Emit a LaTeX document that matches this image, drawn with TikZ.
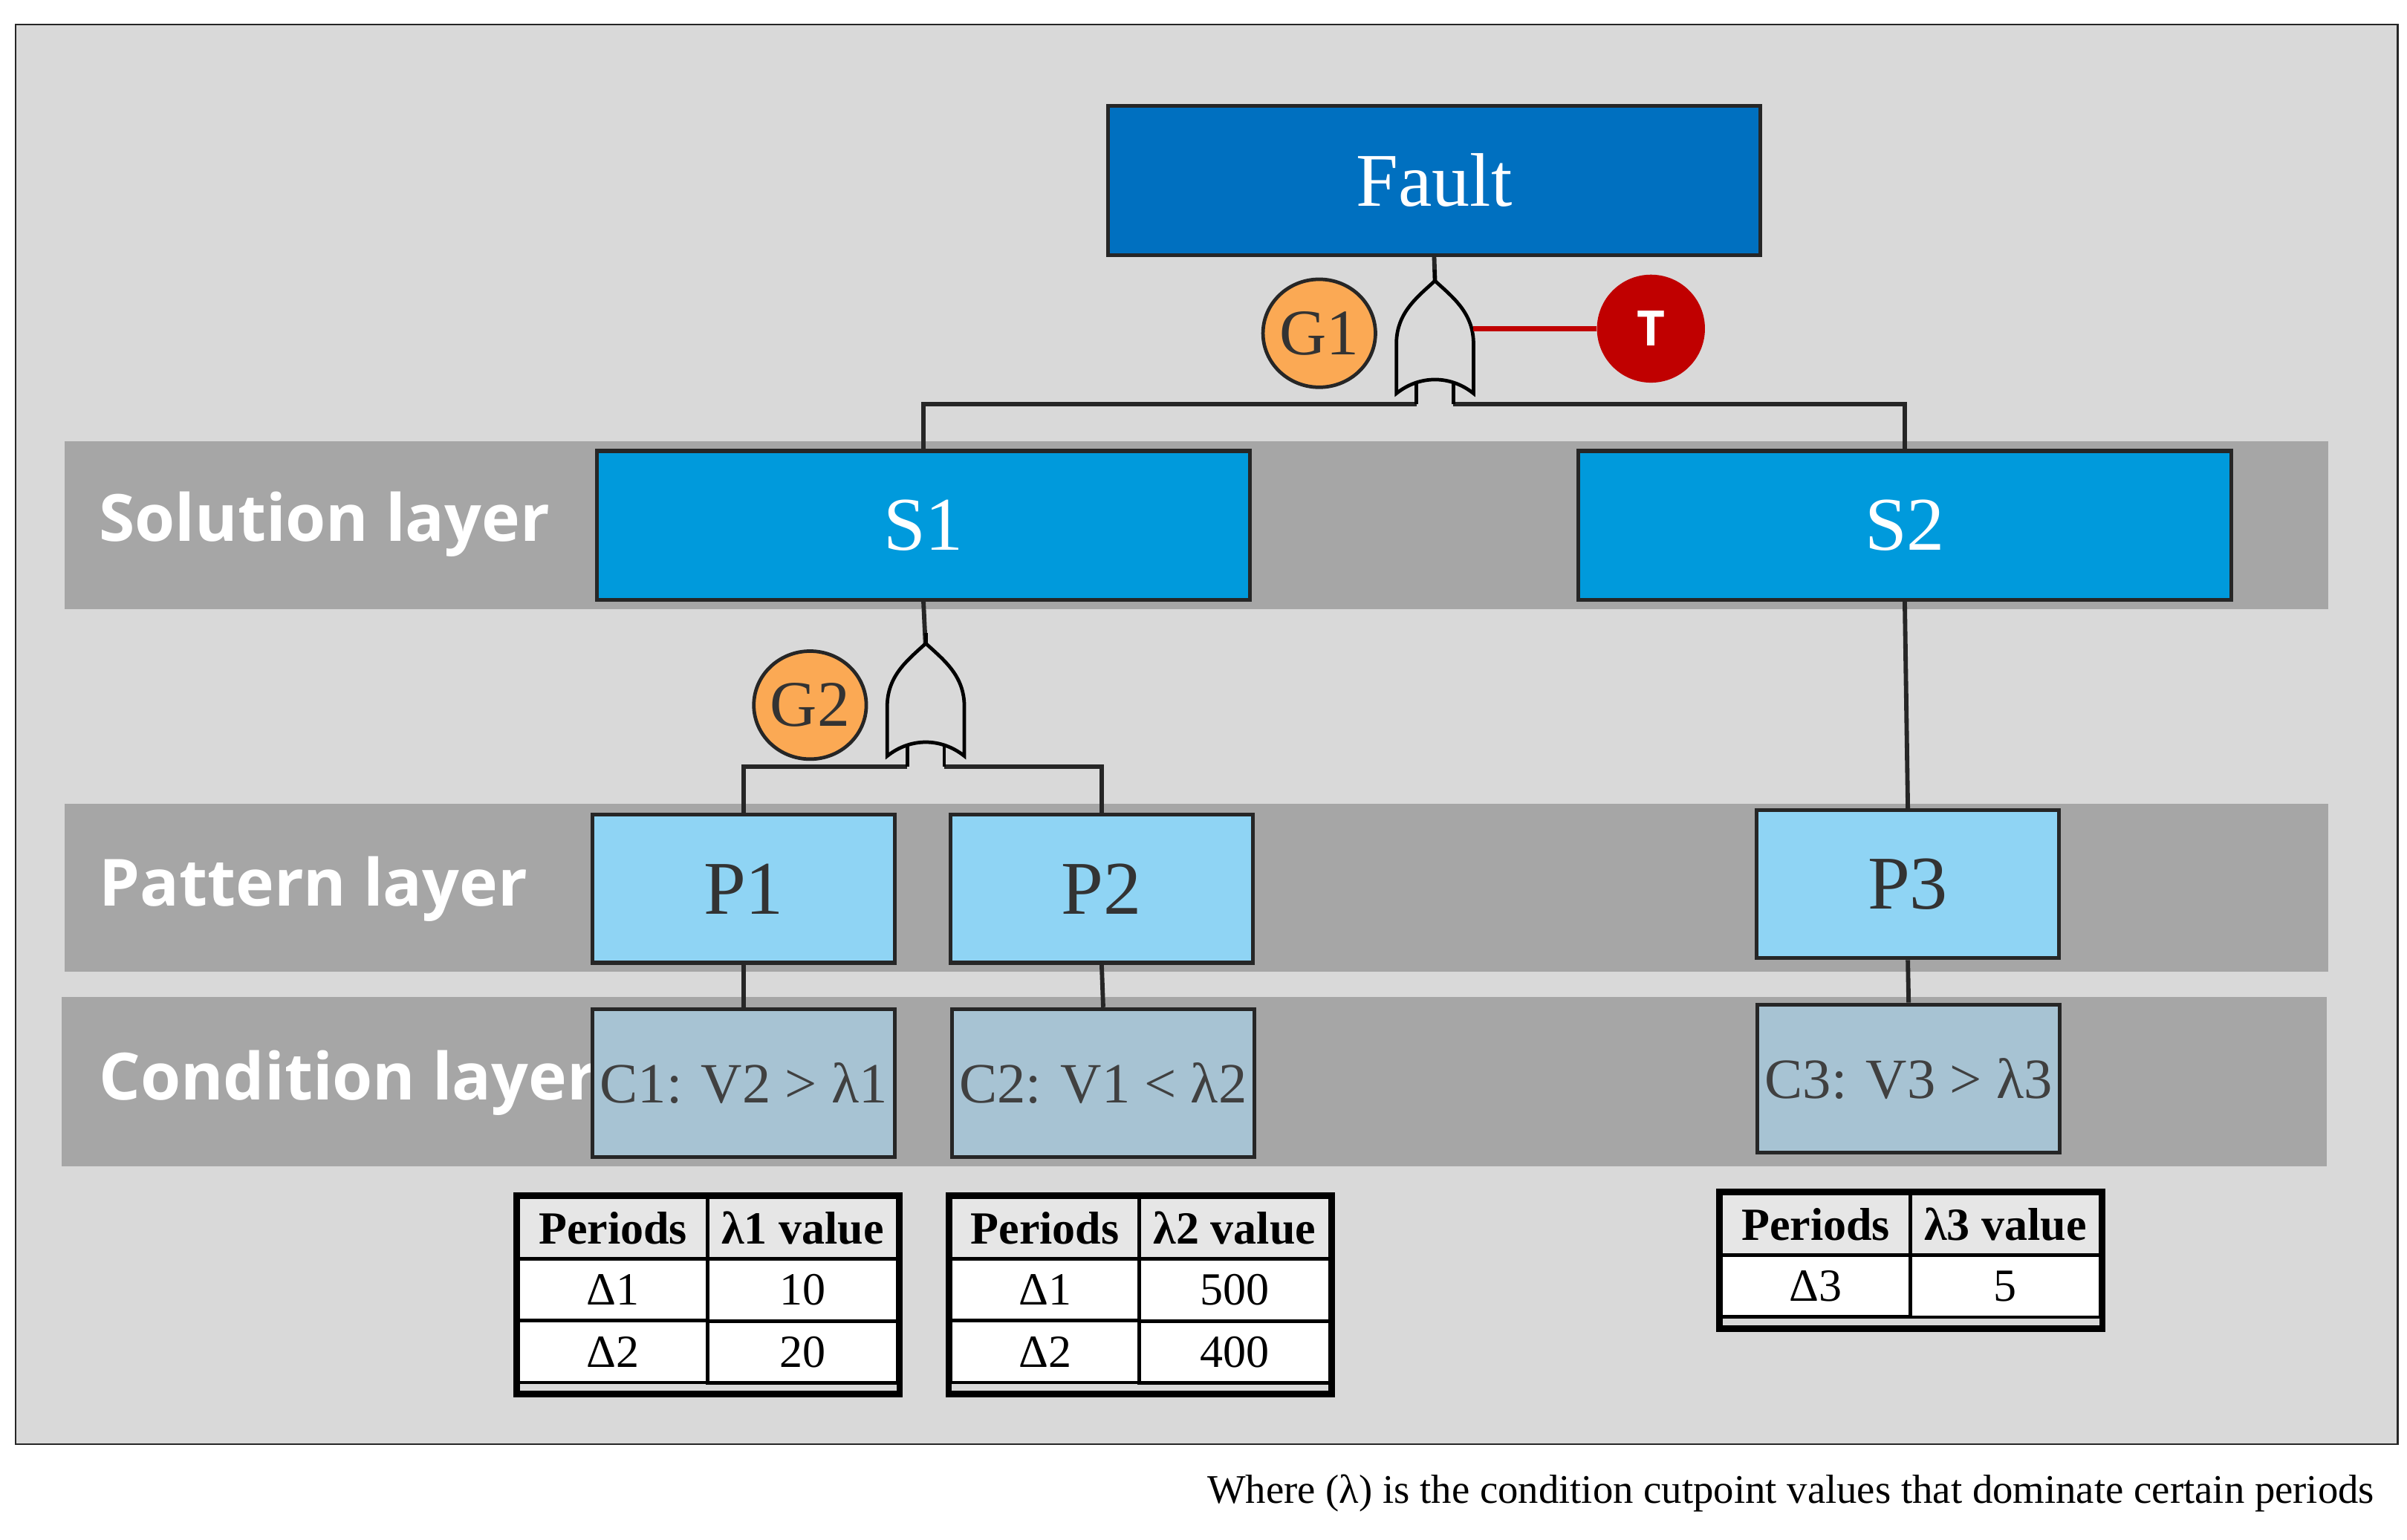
\documentclass[tikz,border=0pt]{standalone}
\usepackage{fontspec}
\setmainfont{Liberation Serif}
\newfontfamily\sansf{Open Sans}
\usetikzlibrary{matrix}
\definecolor{panel}{HTML}{D9D9D9}
\definecolor{band}{HTML}{A6A6A6}
\definecolor{faultc}{HTML}{0070C0}
\definecolor{solc}{HTML}{009ADC}
\definecolor{patc}{HTML}{8FD4F4}
\definecolor{conc}{HTML}{A7C3D3}
\definecolor{gatec}{HTML}{FBA954}
\definecolor{tred}{HTML}{C00000}
\definecolor{edge}{HTML}{262626}
\definecolor{hdr}{HTML}{E6E6E6}
\tikzset{
  box/.style={draw=edge,line width=1.4pt,inner sep=0pt,font=\fontsize{28}{30}\selectfont},
  big/.style={box,minimum width=8.46cm,minimum height=1.93cm,text=white},
  small/.style={box,minimum width=3.92cm,minimum height=1.92cm},
  pat/.style={small,fill=patc,text=black!80},
  cond/.style={small,fill=conc,text=black!75,font=\fontsize{21}{24}\selectfont},
  layer/.style={anchor=west,text=white,font=\sansf\bfseries\fontsize{24}{28}\selectfont},
  conn/.style={draw=edge,line width=1.6pt},
  gcirc/.style={ellipse,draw=edge,line width=1.3pt,fill=gatec,minimum width=1.3cm,minimum height=1.4cm,inner sep=0pt,font=\fontsize{24}{26}\selectfont,text=black!80},
  tab/.style={matrix of nodes,column sep=-1.3pt,row sep=-1.3pt,
     nodes={draw,line width=1.3pt,fill=white,minimum height=0.8cm,inner sep=0pt,font=\fontsize{17}{19}\selectfont},
     column 1/.style={nodes={minimum width=2.45cm}},
     column 2/.style={nodes={minimum width=2.47cm}},
     row 1/.style={nodes={fill=hdr,font=\bfseries\fontsize{17}{19}\selectfont}}},
  orgate/.pic={
    \draw[line width=1.3pt,fill=panel] (-25,0) -- (-25,-32) .. controls (-25,-52) and (-12,-62) .. (0,-73)
       .. controls (12,-62) and (25,-52) .. (25,-32) -- (25,0) .. controls (10,-12) and (-10,-12) .. (-25,0) -- cycle;
    \draw[line width=1.3pt] (-12,-8) -- (-12,7) (12,-8) -- (12,7);
    \draw[line width=1.3pt] (0,-73) -- (0,-80);
  }
}
\ifdefined\ellipse\else\fi
\usetikzlibrary{shapes.geometric}
\begin{document}
\begin{tikzpicture}[x=0.02cm,y=-0.02cm]
\useasboundingbox (0,0) rectangle (1560,998);
\fill[white] (0,0) rectangle (1560,998);
\draw[fill=panel,draw=edge,line width=0.6pt] (10,16) rectangle (1554,936);
\fill[band] (42,286) rectangle (1509,395);
\fill[band] (42,521) rectangle (1509,630);
\fill[band] (40,646) rectangle (1508,756);
\node[layer] (L1) at (58,340) {Solution layer};
\node[layer] (L2) at (58,576) {Pattern layer};
\node[layer] (L3) at (58,702) {Condition layer};

% connectors first
\coordinate (g1l) at (918,262); \coordinate (g1r) at (942,262);
\coordinate (g2l) at (588,497); \coordinate (g2r) at (612,497);
\node[big,fill=faultc] (F) at (929.5,117) {Fault};
\node[big,fill=solc] (S1) at (598.5,340.5) {S1};
\node[big,fill=solc] (S2) at (1234.5,340.5) {S2};
\draw[conn] (F.south) -- (930,182);
\draw[conn] (g1l) -| (S1.north);
\draw[conn] (g1r) -| (S2.north);
\draw[conn] (S1.south) -- (600,422);
\node[pat] (P1) at (482,576) {P1};
\node[pat] (P2) at (714,576) {P2};
\node[pat] (P3) at (1236.5,573) {P3};
\draw[conn] (g2l) -| (P1.north);
\draw[conn] (g2r) -| (P2.north);
\draw[conn] (S2.south) -- (P3.north);
\node[cond] (C1) at (482,702) {C1: V2 > λ1};
\node[cond] (C2) at (715,702) {C2: V1 < λ2};
\node[cond] (C3) at (1237,699) {C3: V3 > λ3};
\draw[conn] (P1.south) -- (C1.north);
\draw[conn] (P2.south) -- (C2.north);
\draw[conn] (P3.south) -- (C3.north);

\pic at (930,255) {orgate};
\pic at (600,490) {orgate};
\node[gcirc] (G1) at (855,216) {G1};
\node[gcirc] (G2) at (525,457) {G2};
\node[circle,fill=tred,minimum size=1.4cm,inner sep=0pt,text=white,font=\sansf\bfseries\fontsize{18}{20}\selectfont] (T) at (1070,213) {T};
\coordinate (g1o) at (955,213);
\draw[tred,line width=2pt] (g1o) -- (T.west);

\matrix[tab] (T1) at (459,836) {
 Periods & λ1 value \\ Δ1 & 10 \\ Δ2 & 20 \\};
\matrix[tab] (T2) at (739,836) {
 Periods & λ2 value \\ Δ1 & 500 \\ Δ2 & 400 \\};
\matrix[tab] (T3) at (1238.5,813.5) {
 Periods & λ3 value \\ Δ3 & 5 \\};
\foreach \t in {T1,T2,T3}
  \draw[line width=2.4pt] (\t-1-1.north west) rectangle (\t.south east -| \t-1-2.east);
\node[anchor=east,font=\fontsize{15}{17}\selectfont] (cap) at (1545,968) {Where (λ) is the condition cutpoint values that dominate certain periods};
\end{tikzpicture}
\end{document}
